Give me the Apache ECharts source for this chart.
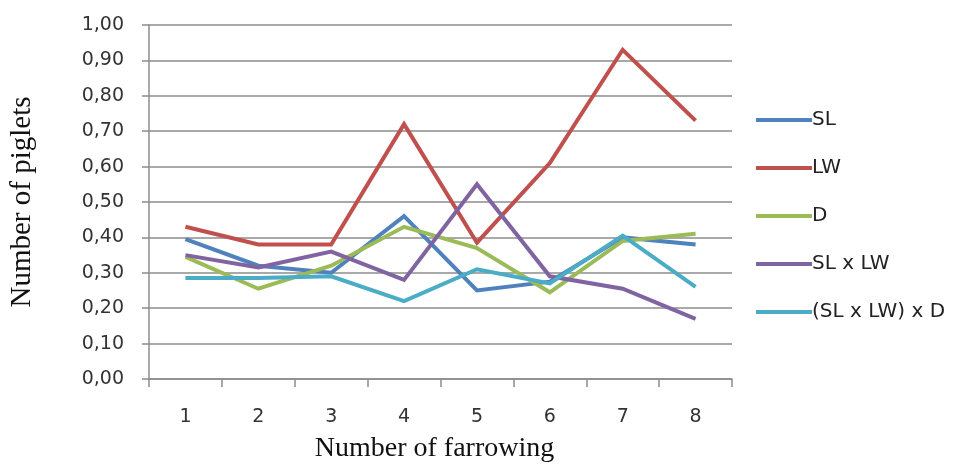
<!DOCTYPE html>
<html>
<head>
<meta charset="utf-8">
<script src="https://cdn.jsdelivr.net/npm/echarts@6/dist/echarts.min.js"></script>
<style>
  html, body { margin: 0; padding: 0; background: #fff; }
  #chart { width: 955px; height: 468px; }
</style>
</head>
<body>
<div id="chart"></div>
<script>
// Farrowing number on the x axis, mean piglet counts per genotype group
const categories = ['1', '2', '3', '4', '5', '6', '7', '8'];
const seriesNames = ['SL', 'LW', 'D', 'SL x LW', '(SL x LW) x D'];
const slValues      = [0.395, 0.32, 0.30, 0.46, 0.25, 0.275, 0.40, 0.38];
const lwValues      = [0.43, 0.38, 0.38, 0.72, 0.385, 0.61, 0.93, 0.73];
const dValues       = [0.345, 0.255, 0.32, 0.43, 0.37, 0.245, 0.39, 0.41];
const slLwValues    = [0.35, 0.315, 0.36, 0.28, 0.55, 0.29, 0.255, 0.17];
const slLwDValues   = [0.285, 0.285, 0.29, 0.22, 0.31, 0.27, 0.405, 0.26];
const yTicks = [0, 0.1, 0.2, 0.3, 0.4, 0.5, 0.6, 0.7, 0.8, 0.9, 1.0];

const colors = ['#4F81BD', '#C0504D', '#9BBB59', '#8064A2', '#4BACC6'];
const valueSets = [slValues, lwValues, dValues, slLwValues, slLwDValues];

const sansFont = '"DejaVu Sans", Verdana, sans-serif';
const serifFont = '"Liberation Serif", "Times New Roman", serif';
const gray = '#8c8c8c';

const chart = echarts.init(document.getElementById('chart'), null, { renderer: 'canvas' });

chart.setOption({
  animation: false,
  backgroundColor: '#ffffff',
  color: colors,
  grid: { left: 148, right: 223, top: 25, bottom: 83, containLabel: false },
  legend: {
    orient: 'vertical',
    left: 751,
    top: 104,
    icon: 'rect',
    itemWidth: 56,
    itemHeight: 4,
    itemGap: 26,
    data: seriesNames,
    textStyle: { fontFamily: sansFont, fontSize: 20, color: '#222', lineHeight: 22, padding: [0, 0, 0, -5] }
  },
  xAxis: {
    type: 'category',
    data: categories,
    boundaryGap: true,
    name: 'Number of farrowing',
    nameLocation: 'middle',
    nameGap: 56,
    nameTextStyle: { fontFamily: serifFont, fontSize: 28, color: '#111', padding: [0, 12, 0, 0] },
    axisLine: { lineStyle: { color: gray, width: 1.5 } },
    axisTick: { show: true, length: 8, lineStyle: { color: gray, width: 1.5 } },
    axisLabel: { margin: 29, fontFamily: sansFont, fontSize: 19, color: '#333' },
    splitLine: { show: false }
  },
  yAxis: {
    type: 'value',
    min: 0,
    max: 1,
    interval: 0.1,
    name: 'Number of piglets',
    nameLocation: 'middle',
    nameGap: 112,
    nameRotate: 90,
    nameTextStyle: { fontFamily: serifFont, fontSize: 29, color: '#111' },
    axisLine: { show: true, lineStyle: { color: gray, width: 1.5 } },
    axisTick: { show: true, length: 7, lineStyle: { color: gray, width: 1.5 } },
    axisLabel: {
      margin: 25,
      fontFamily: sansFont,
      fontSize: 19,
      color: '#333',
      formatter: v => {
        const t = yTicks.find(x => Math.abs(x - v) < 1e-9);
        return (t !== undefined ? t : v).toFixed(2).replace('.', ',');
      }
    },
    splitLine: { show: true, lineStyle: { color: gray, width: 1.5 } }
  },
  series: seriesNames.map((name, i) => ({
    name: name,
    type: 'line',
    data: valueSets[i],
    symbol: 'none',
    showSymbol: false,
    lineStyle: { width: 4, color: colors[i], join: 'miter' },
    itemStyle: { color: colors[i] }
  }))
});
</script>
</body>
</html>
